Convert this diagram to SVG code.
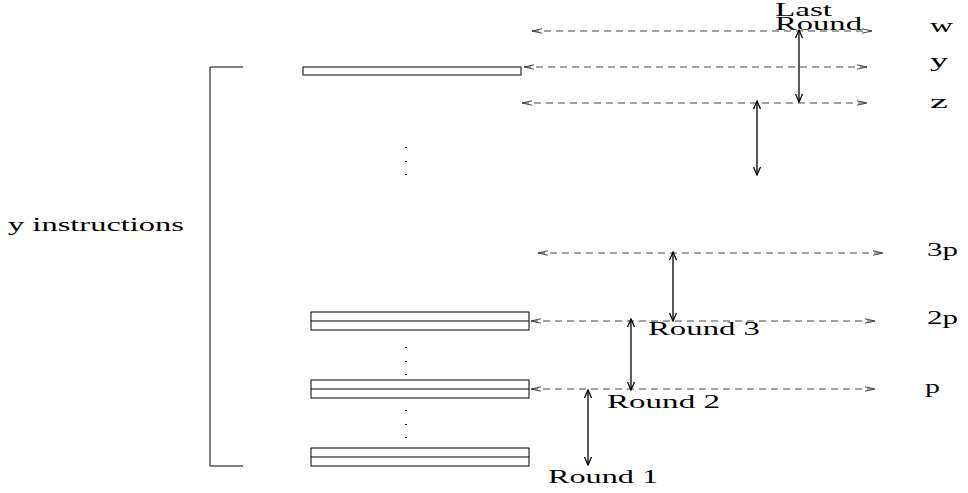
<svg xmlns="http://www.w3.org/2000/svg" width="968" height="493" viewBox="0 0 968 493">
<style>
text{font-family:"Liberation Serif","Times New Roman",serif;font-size:18px;fill:#000}
.box{fill:#fff;stroke:#000;stroke-width:1}
.dash{fill:none;stroke:#444;stroke-width:1;stroke-dasharray:7 5}
.arr{fill:none;stroke:#000;stroke-width:1.3}
.dot{fill:#000}
</style>
<defs>
<marker id="oh" viewBox="-11 -4 13 8" refX="0" refY="0" markerWidth="13" markerHeight="8" markerUnits="userSpaceOnUse" orient="auto-start-reverse">
<path d="M-10,-2.2 L0,0 L-10,2.2" fill="none" stroke="#444" stroke-width="1"/>
</marker>
<marker id="vh" viewBox="-10 -5 12 10" refX="0" refY="0" markerWidth="12" markerHeight="10" markerUnits="userSpaceOnUse" orient="auto-start-reverse">
<path d="M-8,-3.5 L0,0 L-8,3.5" fill="none" stroke="#000" stroke-width="1.3"/>
</marker>
</defs>
<g id="bracket"><path d="M243,67 H210 V466 H243" fill="none" stroke="#000" stroke-width="1"/>
<text x="8" y="231" textLength="176" lengthAdjust="spacingAndGlyphs">y instructions</text></g>
<g id="instr-y"><rect class="box" x="303" y="67" width="218" height="8"/></g>
<g id="instr-2p"><rect class="box" x="311" y="312" width="218" height="18"/><line x1="311" y1="321" x2="529" y2="321" stroke="#000"/></g>
<g id="instr-p"><rect class="box" x="311" y="380" width="218" height="18"/><line x1="311" y1="389" x2="529" y2="389" stroke="#000"/></g>
<g id="instr-1"><rect class="box" x="311" y="448" width="218" height="18"/><line x1="311" y1="457" x2="529" y2="457" stroke="#000"/></g>
<g id="dots">
<rect class="dot" x="405" y="147" width="2" height="1"/><rect class="dot" x="405" y="161" width="2" height="1"/><rect class="dot" x="405" y="174" width="2" height="1"/>
<rect class="dot" x="405" y="347" width="2" height="1"/><rect class="dot" x="405" y="361" width="2" height="1"/><rect class="dot" x="405" y="374" width="2" height="1"/>
<rect class="dot" x="405" y="410" width="2" height="1"/><rect class="dot" x="405" y="424" width="2" height="1"/><rect class="dot" x="405" y="437" width="2" height="1"/>
</g>
<g id="labels">
<text x="930" y="32" textLength="23" lengthAdjust="spacingAndGlyphs">w</text>
<text x="930" y="67" textLength="18" lengthAdjust="spacingAndGlyphs">y</text>
<text x="930" y="108" textLength="18" lengthAdjust="spacingAndGlyphs">z</text>
<text x="927" y="256" textLength="31" lengthAdjust="spacingAndGlyphs">3p</text>
<text x="927" y="324" textLength="31" lengthAdjust="spacingAndGlyphs">2p</text>
<text x="925" y="393" textLength="15" lengthAdjust="spacingAndGlyphs">p</text>
<text x="775" y="16" textLength="57" lengthAdjust="spacingAndGlyphs">Last</text>
<text x="775" y="30" textLength="87" lengthAdjust="spacingAndGlyphs">Round</text>
<text x="648" y="335" textLength="112" lengthAdjust="spacingAndGlyphs">Round 3</text>
<text x="607" y="408" textLength="113" lengthAdjust="spacingAndGlyphs">Round 2</text>
<text x="548" y="483" textLength="110" lengthAdjust="spacingAndGlyphs">Round 1</text>
</g>
<g id="connectors">
<line class="dash" x1="532" y1="31" x2="872" y2="31" marker-start="url(#oh)" marker-end="url(#oh)"/>
<line class="dash" x1="524" y1="67" x2="867" y2="67" marker-start="url(#oh)" marker-end="url(#oh)"/>
<line class="dash" x1="522" y1="103" x2="867" y2="103" marker-start="url(#oh)" marker-end="url(#oh)"/>
<line class="dash" x1="538" y1="253" x2="883" y2="253" marker-start="url(#oh)" marker-end="url(#oh)"/>
<line class="dash" x1="531" y1="321" x2="875" y2="321" marker-start="url(#oh)" marker-end="url(#oh)"/>
<line class="dash" x1="531" y1="389" x2="875" y2="389" marker-start="url(#oh)" marker-end="url(#oh)"/>
<line class="arr" x1="799" y1="30" x2="799" y2="102" marker-start="url(#vh)" marker-end="url(#vh)"/>
<line class="arr" x1="757" y1="101" x2="757" y2="175" marker-start="url(#vh)" marker-end="url(#vh)"/>
<line class="arr" x1="673" y1="252" x2="673" y2="321" marker-start="url(#vh)" marker-end="url(#vh)"/>
<line class="arr" x1="631" y1="319" x2="631" y2="390" marker-start="url(#vh)" marker-end="url(#vh)"/>
<line class="arr" x1="588" y1="390" x2="588" y2="465" marker-start="url(#vh)" marker-end="url(#vh)"/>
</g>
</svg>
